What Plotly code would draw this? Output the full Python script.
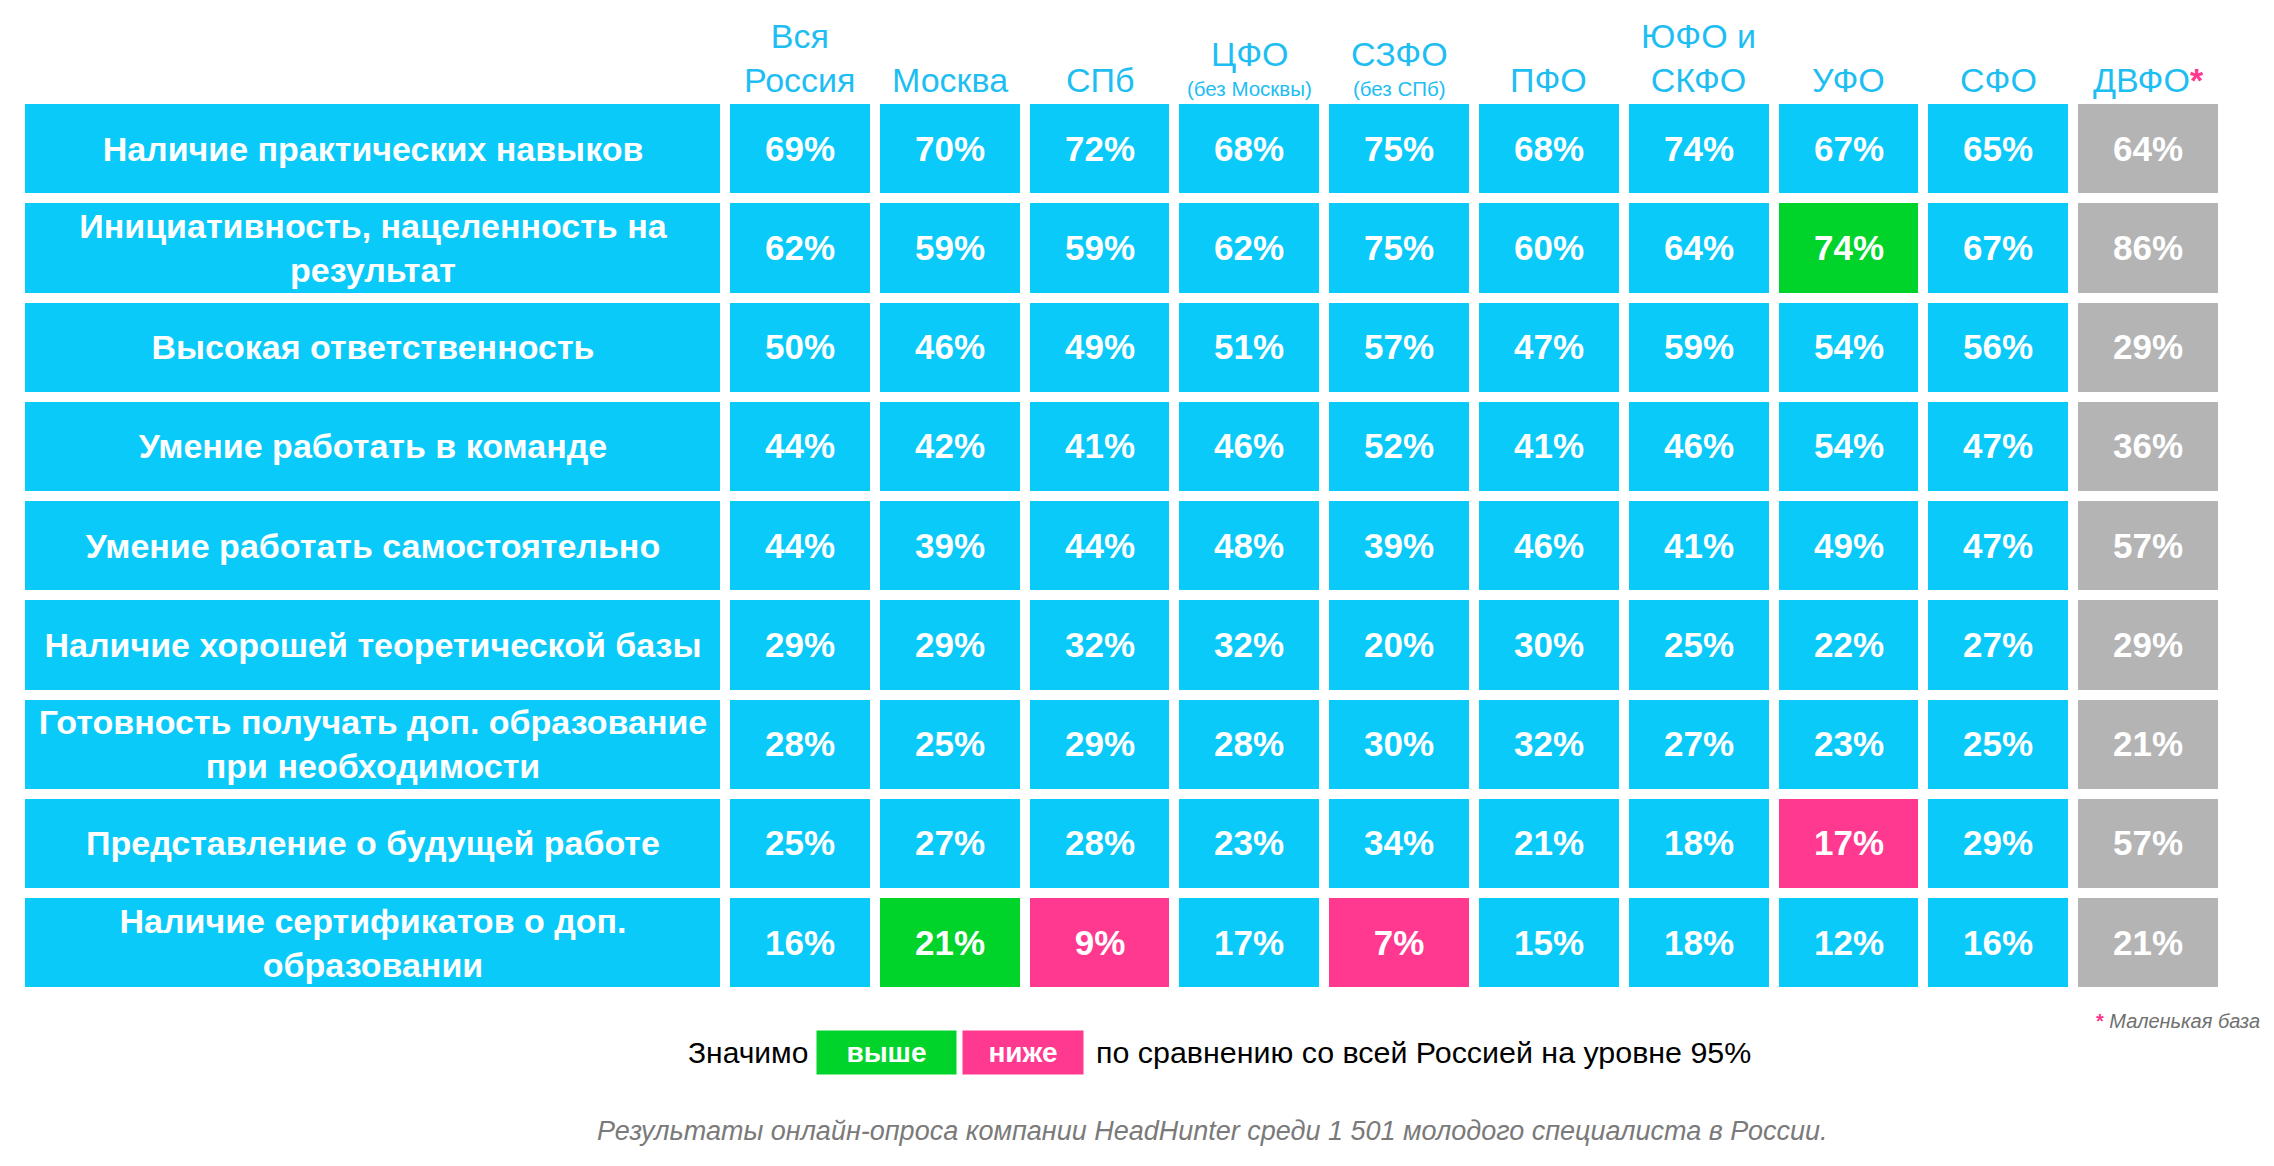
import plotly.graph_objects as go

# ---------------- data ----------------
regions = ["Вся<br>Россия", "Москва", "СПб", "ЦФО", "СЗФО", "ПФО", "ЮФО и<br>СКФО", "УФО", "СФО", "ДВФО"]
region_notes = ["", "", "", "(без Москвы)", "(без СПб)", "", "", "", "", ""]
small_base = [False, False, False, False, False, False, False, False, False, True]

skills = [
    "Наличие практических навыков",
    "Инициативность, нацеленность на<br>результат",
    "Высокая ответственность",
    "Умение работать в команде",
    "Умение работать самостоятельно",
    "Наличие хорошей теоретической базы",
    "Готовность получать доп. образование<br>при необходимости",
    "Представление о будущей работе",
    "Наличие сертификатов о доп.<br>образовании",
]

values = [
    [69, 70, 72, 68, 75, 68, 74, 67, 65, 64],
    [62, 59, 59, 62, 75, 60, 64, 74, 67, 86],
    [50, 46, 49, 51, 57, 47, 59, 54, 56, 29],
    [44, 42, 41, 46, 52, 41, 46, 54, 47, 36],
    [44, 39, 44, 48, 39, 46, 41, 49, 47, 57],
    [29, 29, 32, 32, 20, 30, 25, 22, 27, 29],
    [28, 25, 29, 28, 30, 32, 27, 23, 25, 21],
    [25, 27, 28, 23, 34, 21, 18, 17, 29, 57],
    [16, 21, 9, 17, 7, 15, 18, 12, 16, 21],
]

# significance vs all Russia: "+" higher, "-" lower, "" n.s.
significance = [
    ["", "", "", "", "", "", "", "", "", ""],
    ["", "", "", "", "", "", "", "+", "", ""],
    ["", "", "", "", "", "", "", "", "", ""],
    ["", "", "", "", "", "", "", "", "", ""],
    ["", "", "", "", "", "", "", "", "", ""],
    ["", "", "", "", "", "", "", "", "", ""],
    ["", "", "", "", "", "", "", "", "", ""],
    ["", "", "", "", "", "", "", "-", "", ""],
    ["", "+", "-", "", "-", "", "", "", "", ""],
]

legend_label = "Значимо"
legend_high = "выше"
legend_low = "ниже"
legend_tail = "по сравнению со всей Россией на уровне 95%"
small_base_note = "Маленькая база"
footer = "Результаты онлайн-опроса компании HeadHunter среди 1 501 молодого специалиста в России."

# ---------------- styles / layout ----------------
W, H = 2274, 1166
OFF = 8  # default page body margin; data coords are page pixels
CYAN = "#0ACAF9"
GREEN = "#00D42A"
PINK = "#FF3890"
GREY = "#B4B4B4"
HEAD = "#1EBEF3"
FONT = "Liberation Sans, Arial, Helvetica, sans-serif"

GAP = 10
LABEL_L, LABEL_R = 20, 725
COL_PITCH = 149.8
ROW_TOP, ROW_PITCH = 99, 99.25

ncol = len(regions)
nrow = len(skills)
x_edges = [LABEL_R + i * COL_PITCH for i in range(ncol + 1)]
y_edges = [ROW_TOP + i * ROW_PITCH for i in range(nrow + 1)]
col_centers = [(x_edges[i] + x_edges[i + 1]) / 2 for i in range(ncol)]

code = {"": 0, "+": 1, "-": 2}
z = []
for r in range(nrow):
    row = []
    for c in range(ncol):
        row.append(3 if small_base[c] else code[significance[r][c]])
    z.append(row)

colorscale = [
    [0.0, CYAN], [1 / 6, CYAN],
    [1 / 6, GREEN], [0.5, GREEN],
    [0.5, PINK], [5 / 6, PINK],
    [5 / 6, GREY], [1.0, GREY],
]

fig = go.Figure()

# label column
fig.add_trace(go.Heatmap(
    x=[LABEL_L, LABEL_R], y=y_edges,
    z=[[0] for _ in range(nrow)],
    zmin=0, zmax=3, colorscale=colorscale, showscale=False,
    xgap=GAP, ygap=GAP,
    text=[[s] for s in skills], texttemplate="%{text}",
    textfont=dict(family=FONT, size=34, color="white", weight="bold"),
    hoverinfo="skip",
))

# values
fig.add_trace(go.Heatmap(
    x=x_edges, y=y_edges, z=z,
    zmin=0, zmax=3, colorscale=colorscale, showscale=False,
    xgap=GAP, ygap=GAP,
    text=[[f"{v}%" for v in row] for row in values], texttemplate="%{text}",
    textfont=dict(family=FONT, size=35, color="white", weight="bold"),
    hoverinfo="skip",
))

annotations = []
# headers
for i, name in enumerate(regions):
    txt = name + (f"<span style='color:{PINK}'><b>*</b></span>" if small_base[i] else "")
    if region_notes[i]:
        annotations.append(dict(x=col_centers[i], y=75, text=txt, xanchor="center", yanchor="bottom",
                                showarrow=False, font=dict(family=FONT, size=34, color=HEAD)))
        annotations.append(dict(x=col_centers[i], y=102, text=region_notes[i], xanchor="center", yanchor="bottom",
                                showarrow=False, font=dict(family=FONT, size=20.5, color=HEAD)))
    else:
        annotations.append(dict(x=col_centers[i], y=101, text=txt, xanchor="center", yanchor="bottom",
                                showarrow=False, font=dict(family=FONT, size=34, color=HEAD)))

# small base note
annotations.append(dict(x=2262, y=1021, xanchor="right", yanchor="middle", showarrow=False,
                        text=f"<span style='color:{PINK}'><b>*</b></span> <i>{small_base_note}</i>",
                        font=dict(family=FONT, size=20, color="#707070")))

# legend
LEG_Y = 1052
annotations.append(dict(x=810, y=LEG_Y, xanchor="right", yanchor="middle", showarrow=False,
                        text=legend_label, font=dict(family=FONT, size=30, color="black")))
annotations.append(dict(x=886.5, y=LEG_Y, xanchor="center", yanchor="middle", showarrow=False,
                        text=f"<b>{legend_high}</b>", bgcolor=GREEN, width=137, height=41,
                        font=dict(family=FONT, size=28, color="white")))
annotations.append(dict(x=1023, y=LEG_Y, xanchor="center", yanchor="middle", showarrow=False,
                        text=f"<b>{legend_low}</b>", bgcolor=PINK, width=118, height=41,
                        font=dict(family=FONT, size=28, color="white")))
annotations.append(dict(x=1094, y=LEG_Y, xanchor="left", yanchor="middle", showarrow=False,
                        text=legend_tail, font=dict(family=FONT, size=30.4, color="black")))

# footer
annotations.append(dict(x=1212, y=1131, xanchor="center", yanchor="middle", showarrow=False,
                        text=f"<i>{footer}</i>", font=dict(family=FONT, size=27, color="#7A7A7A")))

fig.update_layout(
    width=W, height=H, autosize=False,
    margin=dict(l=0, r=0, t=0, b=0),
    paper_bgcolor="white", plot_bgcolor="white",
    xaxis=dict(range=[OFF, W + OFF], visible=False, fixedrange=True),
    yaxis=dict(range=[H + OFF, OFF], visible=False, fixedrange=True),
    annotations=annotations,
    showlegend=False,
)

fig.write_html("out.html", config={"displayModeBar": False})
